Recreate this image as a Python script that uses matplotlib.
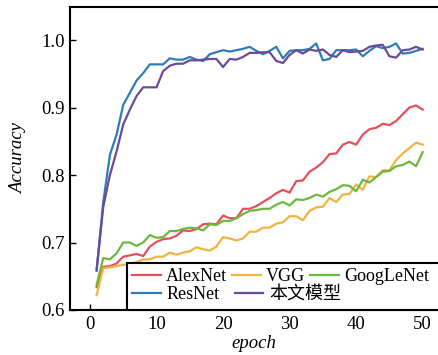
import numpy as np
import matplotlib
matplotlib.use('Agg')
import matplotlib.pyplot as plt
from matplotlib.patches import Rectangle

plt.rcParams['font.family'] = ['Liberation Serif', 'Noto Sans CJK SC']
plt.rcParams['mathtext.fontset'] = 'stix'

epochs = np.arange(1, 51)

alexnet = [0.634, 0.664, 0.665, 0.669, 0.679, 0.681, 0.683, 0.680, 0.694, 0.701,
           0.705, 0.706, 0.710, 0.718, 0.717, 0.720, 0.727, 0.728, 0.727, 0.740,
           0.736, 0.736, 0.750, 0.750, 0.754, 0.760, 0.766, 0.773, 0.778, 0.774,
           0.791, 0.792, 0.805, 0.811, 0.819, 0.831, 0.832, 0.845, 0.849, 0.845,
           0.860, 0.868, 0.870, 0.876, 0.874, 0.880, 0.890, 0.900, 0.903, 0.897]
vgg = [0.622, 0.662, 0.663, 0.665, 0.667, 0.668, 0.671, 0.675, 0.675, 0.679,
       0.679, 0.685, 0.682, 0.685, 0.687, 0.693, 0.690, 0.688, 0.694, 0.708,
       0.706, 0.703, 0.706, 0.716, 0.716, 0.722, 0.722, 0.728, 0.730, 0.739,
       0.739, 0.733, 0.747, 0.752, 0.753, 0.766, 0.760, 0.771, 0.772, 0.786,
       0.778, 0.798, 0.797, 0.807, 0.807, 0.822, 0.832, 0.840, 0.848, 0.845]
googlenet = [0.637, 0.677, 0.675, 0.684, 0.700, 0.700, 0.695, 0.700, 0.711, 0.707,
             0.708, 0.717, 0.717, 0.720, 0.722, 0.721, 0.718, 0.727, 0.726, 0.732,
             0.732, 0.736, 0.742, 0.747, 0.748, 0.750, 0.750, 0.756, 0.760, 0.755,
             0.764, 0.763, 0.766, 0.771, 0.768, 0.775, 0.779, 0.785, 0.784, 0.776,
             0.793, 0.789, 0.797, 0.805, 0.806, 0.813, 0.815, 0.820, 0.813, 0.834]
resnet = [0.658, 0.760, 0.830, 0.860, 0.904, 0.922, 0.940, 0.951, 0.964, 0.964,
          0.964, 0.973, 0.971, 0.971, 0.975, 0.971, 0.969, 0.979, 0.982, 0.985,
          0.983, 0.985, 0.987, 0.990, 0.984, 0.979, 0.984, 0.990, 0.973, 0.984,
          0.985, 0.985, 0.987, 0.995, 0.970, 0.972, 0.985, 0.985, 0.985, 0.986,
          0.976, 0.984, 0.991, 0.988, 0.990, 0.995, 0.980, 0.981, 0.984, 0.987]
ours = [0.660, 0.753, 0.800, 0.835, 0.875, 0.897, 0.917, 0.930, 0.930, 0.930,
        0.954, 0.962, 0.965, 0.965, 0.970, 0.970, 0.971, 0.972, 0.972, 0.960,
        0.972, 0.971, 0.975, 0.981, 0.981, 0.982, 0.982, 0.969, 0.966, 0.978,
        0.985, 0.980, 0.986, 0.984, 0.986, 0.978, 0.975, 0.985, 0.982, 0.983,
        0.984, 0.990, 0.992, 0.993, 0.976, 0.974, 0.985, 0.986, 0.990, 0.986]

colors = {'AlexNet': '#e4505c', 'VGG': '#f2b441', 'GoogLeNet': '#6cb83c',
          'ResNet': '#2f7db5', '本文模型': '#6a4b98'}

fig = plt.figure(figsize=(4.38, 3.55), dpi=100)
ax = fig.add_axes([70 / 438, 45 / 355, 368 / 438, 303 / 355])

lines = {}
for name, vals in [('AlexNet', alexnet), ('VGG', vgg), ('GoogLeNet', googlenet),
                   ('ResNet', resnet), ('本文模型', ours)]:
    lines[name], = ax.plot(epochs, vals, color=colors[name], lw=1.6, label=name)

ax.set_xlim(-3, 52.3)
ax.set_ylim(0.6, 1.049)
ax.set_xticks([0, 10, 20, 30, 40, 50])
ax.set_yticks([0.6, 0.7, 0.8, 0.9, 1.0])
ax.set_yticklabels(['0.6', '0.7', '0.8', '0.9', '1.0'])
ax.tick_params(direction='in', length=4, width=1, labelsize=13.5, pad=4,
               top=False, right=False)
for s in ['left', 'bottom', 'top']:
    ax.spines[s].set_linewidth(1.5)
ax.spines['right'].set_visible(False)

ax.set_xlabel('epoch', fontsize=13.5, style='italic', labelpad=2)
ax.set_ylabel('Accuracy', fontsize=13.5, style='italic', labelpad=10)

# 图例外框
box = Rectangle((0.155, 0), 1.0, 0.155, transform=ax.transAxes, facecolor='white',
                edgecolor='black', lw=1.5, zorder=5, clip_on=False)
ax.add_patch(box)

prop = {'family': ['Liberation Serif', 'Noto Sans CJK SC'], 'size': 13}
leg1 = ax.legend([lines['AlexNet'], lines['VGG'], lines['GoogLeNet']],
                 ['AlexNet', 'VGG', 'GoogLeNet'], ncol=3, loc='center left',
                 bbox_to_anchor=(0.168, 0.109), borderaxespad=0, borderpad=0,
                 frameon=False, prop=prop, handlelength=1.6, handletextpad=0.3,
                 columnspacing=0.25)
leg1.set_zorder(6)
ax.add_artist(leg1)
leg2 = ax.legend([lines['ResNet'], lines['本文模型']], ['ResNet', '本文模型'],
                 ncol=2, loc='center left', bbox_to_anchor=(0.168, 0.05),
                 borderaxespad=0, borderpad=0, frameon=False, prop=prop,
                 handlelength=1.6, handletextpad=0.3, columnspacing=0.85)
leg2.set_zorder(6)

fig.savefig('out.png', dpi=100)
